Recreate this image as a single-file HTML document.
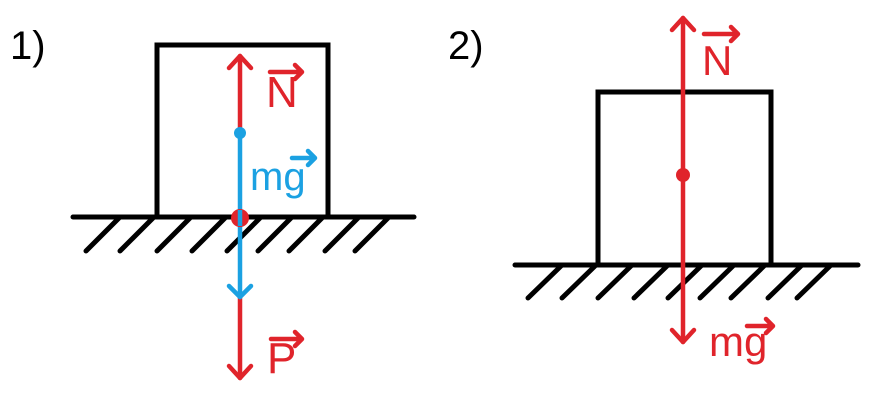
<!DOCTYPE html>
<html><head><style>body{margin:0;background:#fff}</style></head><body>
<svg width="883" height="402" viewBox="0 0 883 402" xmlns="http://www.w3.org/2000/svg" font-family="Liberation Sans, sans-serif">
<rect width="883" height="402" fill="#fff"/>
<text x="10" y="59" font-size="40" fill="#000">1)</text>
<text x="448" y="59" font-size="40" fill="#000">2)</text>
<g stroke="#000" stroke-width="5" fill="none" stroke-linecap="round">
<rect x="157" y="45" width="171" height="172"/>
<line x1="73" y1="217" x2="414" y2="217"/>
<path d="M86 251L119 218M120 251L153 218M157 251L190 218M192 251L225 218M227 251L260 218M258 251L291 218M289 251L322 218M325 251L358 218M355 251L388 218"/>
<rect x="598" y="92" width="173" height="173"/>
<line x1="515" y1="265" x2="858" y2="265"/>
<path d="M528 298L561 266M562 298L595 266M598 298L631 266M634 298L667 266M668 298L701 266M700 298L733 266M731 298L764 266M768 298L801 266M797 298L830 266"/>
</g>
<g stroke="#e0242b" stroke-width="4.5" fill="none" stroke-linecap="round" stroke-linejoin="round">
<line x1="240" y1="56" x2="240" y2="133"/>
<path d="M229 68L240 56L251 68"/>
<line x1="240" y1="298" x2="240" y2="378"/>
<path d="M229 366L240 378L251 366"/>
<line x1="683" y1="18" x2="683" y2="342"/>
<path d="M672 30L683 18L694 30M672 330L683 342L694 330"/>
<path d="M270 72H302M295 65L302 72L295 79"/>
<path d="M271 339H302M295 332L302 339L295 346"/>
<path d="M704 34H738M731 27L738 34L731 41"/>
<path d="M747 326H773M766 319L773 326L766 333"/>
</g>
<g stroke="#1ba1e2" stroke-width="4.5" fill="none" stroke-linecap="round" stroke-linejoin="round">
<line x1="240" y1="133" x2="240" y2="297"/>
<path d="M229 286L240 297L251 286"/>
<path d="M292 158H315M308 151L315 158L308 165"/>
</g>
<circle cx="240" cy="133" r="6" fill="#1ba1e2"/>
<circle cx="240" cy="218" r="9" fill="#e0242b"/>
<line x1="240" y1="210" x2="240" y2="226" stroke="#1ba1e2" stroke-width="4.5"/>
<circle cx="683" cy="175" r="7" fill="#e0242b"/>
<text x="266" y="107" font-size="44" fill="#e0242b">N</text>
<text x="267" y="373" font-size="44" fill="#e0242b">P</text>
<text x="250" y="190" font-size="40" fill="#1ba1e2">mg</text>
<text x="702" y="75" font-size="42" fill="#e0242b">N</text>
<text x="709" y="356" font-size="42" fill="#e0242b">mg</text>
</svg>
</body></html>
